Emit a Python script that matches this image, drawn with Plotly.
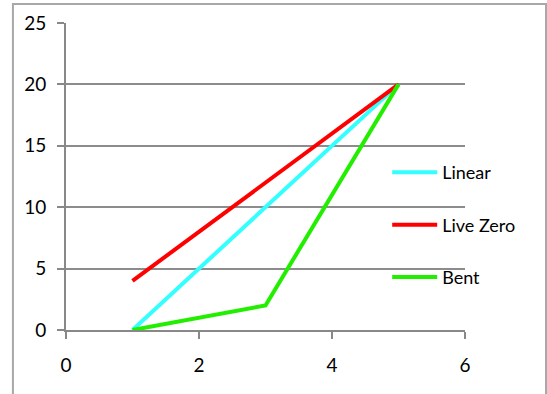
import plotly.graph_objects as go

x_vals = [1, 3, 5]
linear = [0, 10, 20]
live_zero = [4, 12, 20]
bent = [0, 2, 20]
series_names = ["Linear", "Live Zero", "Bent"]
colors = ["#33FFFF", "#FF0000", "#22EE00"]

fig = go.Figure()
for i, (name, ys, c) in enumerate(zip(series_names, [linear, live_zero, bent], colors)):
    fig.add_trace(go.Scatter(x=x_vals, y=ys, mode="lines", name=name,
                             line=dict(color=c, width=4), legendgroup=str(i)))

fam = "Lato, Carlito, Calibri, sans-serif"
axis_font = dict(family=fam, size=19, color="black")
fig.update_layout(
    width=547, height=394,
    margin=dict(l=66, r=82, t=23, b=64),
    paper_bgcolor="white", plot_bgcolor="white",
    font=axis_font,
    showlegend=True,
    legend=dict(x=0.805, y=0.573, xanchor="left", yanchor="top",
                bgcolor="rgba(0,0,0,0)", tracegroupgap=26, itemwidth=45,
                font=dict(family=fam, size=18, color="black"),
                traceorder="grouped"),
    xaxis=dict(range=[0, 6], tickvals=[0, 2, 4, 6], showgrid=False, zeroline=False,
               showline=True, linecolor="#888888", linewidth=2,
               ticks="outside", ticklen=7, tickcolor="#888888", tickwidth=2,
               ticklabelstandoff=10, tickfont=axis_font),
    yaxis=dict(range=[0, 25], tickvals=[0, 5, 10, 15, 20, 25], showgrid=True,
               gridcolor="#8c8c8c", gridwidth=2, zeroline=False,
               showline=True, linecolor="#888888", linewidth=2,
               ticks="outside", ticklen=7, tickcolor="#888888", tickwidth=2,
               ticklabelstandoff=7, tickfont=axis_font),
)
fig.add_shape(type="rect", xref="paper", yref="paper",
              x0=-0.133, x1=1.203, y0=-0.25, y1=1.062,
              line=dict(color="#a8a8a8", width=2), layer="below")

fig.write_html("out.html", config={"displayModeBar": False},
               post_script="document.body.style.margin='0';")
